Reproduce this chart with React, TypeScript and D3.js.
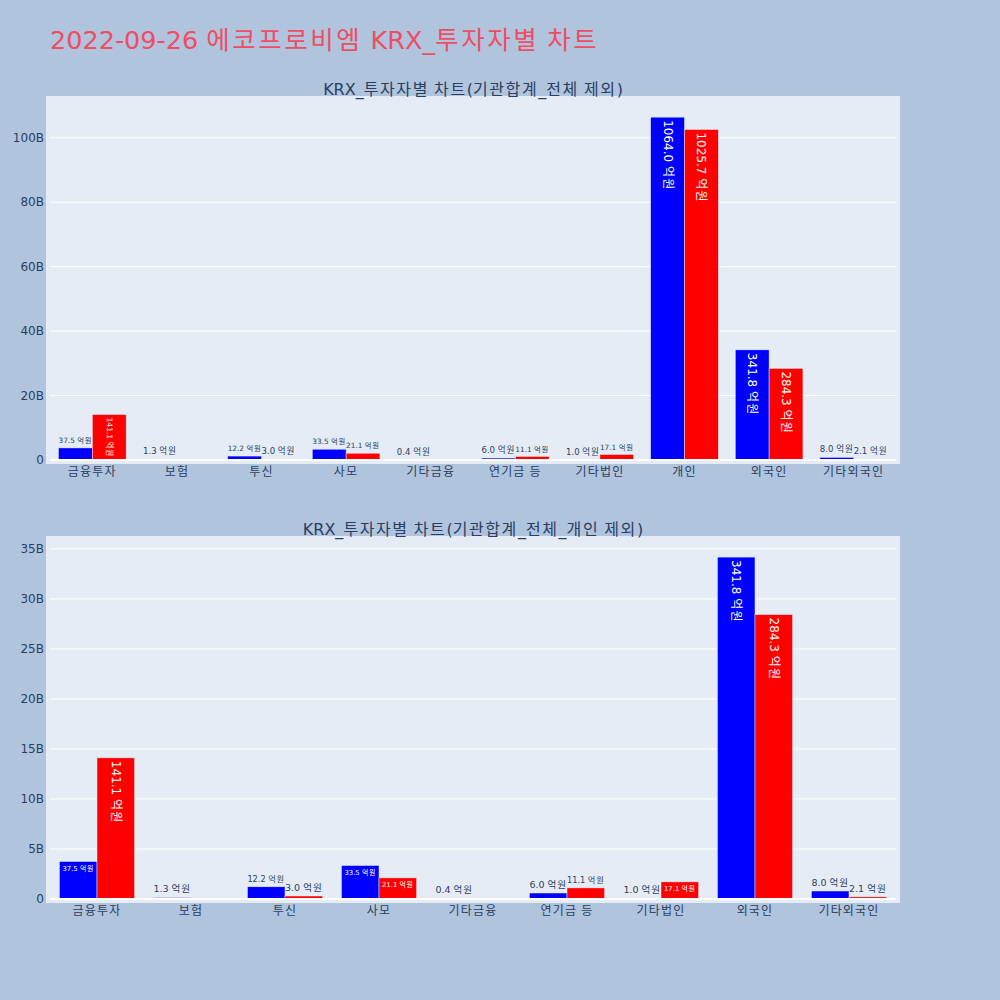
import React, { useEffect, useRef } from 'react';
import * as d3 from 'd3';

const categories = ['금융투자', '보험', '투신', '사모', '기타금융', '연기금 등', '기타법인', '개인', '외국인', '기타외국인'];
// values in 억원
const buyValues: (number | null)[] = [37.5, 1.3, 12.2, 33.5, 0.4, 6.0, 1.0, 1064.0, 341.8, 8.0];
const sellValues: (number | null)[] = [141.1, null, 3.0, 21.1, null, 11.1, 17.1, 1025.7, 284.3, 2.1];
const topTicks = [0, 20, 40, 60, 80, 100]; // billions
const bottomTicks = [0, 5, 10, 15, 20, 25, 30, 35];
const excludedBottom = ['개인'];

const mainTitle = '2022-09-26 에코프로비엠 KRX_투자자별 차트';
const topTitle = 'KRX_투자자별 차트(기관합계_전체 제외)';
const bottomTitle = 'KRX_투자자별 차트(기관합계_전체_개인 제외)';

const FONT = '"DejaVu Sans", "Noto Sans CJK KR", verdana, arial, sans-serif';
const TEXT_COLOR = '#2a3f5f';
const TEXTPAD = 3;

type Sel = d3.Selection<SVGTextElement, unknown, null, undefined>;

// write text with full-width spacing for Hangul runs
function setText(sel: Sel, str: string) {
  const parts = str.split(/([\uAC00-\uD7A3\u3131-\u318E]+)/).filter(p => p.length > 0);
  parts.forEach(p => {
    const ts = sel.append('tspan').text(p);
    if (/[\uAC00-\uD7A3]/.test(p)) ts.attr('letter-spacing', '0.1em');
  });
  return sel;
}

interface Box { x0: number; x1: number; y0: number; y1: number; }

function drawPanel(
  svg: d3.Selection<SVGSVGElement, unknown, null, undefined>,
  cats: string[], s1: (number | null)[], s2: (number | null)[],
  ticks: number[], box: Box, title: string
) {
  const g = svg.append('g');
  g.append('rect')
    .attr('x', box.x0 - 4).attr('y', box.y0 - 4)
    .attr('width', box.x1 - box.x0 + 8).attr('height', box.y1 - box.y0 + 8)
    .attr('fill', '#E5ECF6');

  const toWon = (v: number) => v * 1e8;
  const all = [...s1, ...s2].filter((v): v is number => v != null).map(toWon);
  const maxV = d3.max(all) as number;
  const y = d3.scaleLinear().domain([0, maxV * 1.05]).range([box.y1, box.y0]);
  const x = d3.scaleBand<string>().domain(cats).range([box.x0, box.x1]).paddingInner(0.2).paddingOuter(0.1);
  const sub = d3.scaleBand<string>().domain(['s1', 's2']).range([0, x.bandwidth()]).padding(0);

  // grid
  ticks.forEach(t => {
    const yy = y(t * 1e9);
    if (t !== 0) {
      g.append('line').attr('x1', box.x0).attr('x2', box.x1).attr('y1', yy).attr('y2', yy)
        .attr('stroke', '#fff').attr('stroke-width', 1);
    }
    g.append('text').attr('x', box.x0 - 6).attr('y', yy).attr('dy', '0.35em')
      .attr('text-anchor', 'end').attr('font-family', FONT).attr('font-size', 12)
      .attr('fill', TEXT_COLOR).text(t === 0 ? '0' : `${t}B`);
  });

  // category labels
  cats.forEach(c => {
    const t = g.append('text').attr('x', (x(c) as number) + x.bandwidth() / 2).attr('y', box.y1 + 16)
      .attr('text-anchor', 'middle').attr('font-family', FONT).attr('font-size', 12)
      .attr('fill', TEXT_COLOR);
    setText(t as unknown as Sel, c);
  });

  const series = [
    { key: 's1', vals: s1, color: '#0000FF' },
    { key: 's2', vals: s2, color: '#FF0000' },
  ];

  const barsG = g.append('g');
  const labels: { x0: number; x1: number; yb: number; yt: number; text: string }[] = [];
  series.forEach(s => {
    cats.forEach((c, i) => {
      const v = s.vals[i];
      if (v == null) return;
      const bx0 = (x(c) as number) + (sub(s.key) as number);
      const bx1 = bx0 + sub.bandwidth();
      const yt = y(toWon(v));
      const yb = y(0);
      barsG.append('rect').attr('x', bx0).attr('y', yt).attr('width', bx1 - bx0).attr('height', yb - yt)
        .attr('fill', s.color).attr('stroke', '#E5ECF6').attr('stroke-width', 0.5);
      labels.push({ x0: bx0, x1: bx1, yb, yt, text: `${v.toFixed(1)} 억원` });
    });
  });

  // zero line
  g.append('line').attr('x1', box.x0).attr('x2', box.x1).attr('y1', y(0)).attr('y2', y(0))
    .attr('stroke', '#fff').attr('stroke-width', 2);

  const textG = g.append('g');
  labels.forEach(l => {
    const t = textG.append('text').attr('font-family', FONT).attr('font-size', 12) as unknown as Sel;
    setText(t, l.text);
    const bb = (t.node() as SVGTextElement).getBBox();
    const tw = bb.width, th = bb.height;
    const cx = bb.x + tw / 2, cy = bb.y + th / 2;
    const barW = Math.abs(l.x1 - l.x0) - 2 * TEXTPAD;
    const barH = Math.abs(l.yb - l.yt) - 2 * TEXTPAD;
    const fitsInside = tw <= barW && th <= barH;
    const fitsRot = tw <= barH && th <= barW;
    const fitsShrunk = barH >= th * (barW / tw);
    const inside = fitsInside || fitsRot || fitsShrunk;
    const midX = (l.x0 + l.x1) / 2;
    if (inside) {
      let lx = Math.abs(l.x1 - l.x0), ly = Math.abs(l.yb - l.yt);
      const pad = lx > 2 * TEXTPAD && ly > 2 * TEXTPAD ? TEXTPAD : 0;
      lx -= 2 * pad; ly -= 2 * pad;
      let rot = 0;
      if (!(tw <= lx && th <= ly) && (tw > lx || th > ly) &&
        (!(tw > ly || th > lx) || ((tw < th) !== (lx < ly)))) rot = 90;
      const rx = rot ? th : tw, ry = rot ? tw : th;
      const sc = Math.min(1, lx / rx, ly / ry);
      const ty = l.yt + pad + sc * ry / 2;
      t.attr('fill', '#fff')
        .attr('transform', `translate(${midX},${ty}) scale(${sc}) rotate(${rot}) translate(${-cx},${-cy})`);
    } else {
      const lx = Math.abs(l.x1 - l.x0);
      const pad = lx > 2 * TEXTPAD ? TEXTPAD : 0;
      const sc = Math.min(1, lx / tw);
      const ty = l.yt - pad - sc * th / 2;
      t.attr('fill', TEXT_COLOR)
        .attr('transform', `translate(${midX},${ty}) scale(${sc}) translate(${-cx},${-cy})`);
    }
  });

  const tt = svg.append('text').attr('x', (box.x0 + box.x1) / 2).attr('y', box.y0 - 5)
    .attr('text-anchor', 'middle').attr('font-family', FONT).attr('font-size', 16)
    .attr('fill', TEXT_COLOR);
  setText(tt as unknown as Sel, title);
}

export default function App() {
  const ref = useRef<SVGSVGElement>(null);
  useEffect(() => {
    const svg = d3.select(ref.current as SVGSVGElement);
    svg.selectAll('*').remove();
    svg.append('rect').attr('width', 1000).attr('height', 1000).attr('fill', '#B0C4DE');
    const mt = svg.append('text').attr('x', 50).attr('y', 49).attr('font-family', FONT).attr('font-size', 25.5)
      .attr('fill', '#EF4D63');
    setText(mt as unknown as Sel, mainTitle);

    drawPanel(svg, categories, buyValues, sellValues, topTicks, { x0: 50, x1: 896, y0: 100, y1: 460 }, topTitle);

    const keep = categories.map((c, i) => ({ c, i })).filter(d => !excludedBottom.includes(d.c));
    drawPanel(svg, keep.map(d => d.c), keep.map(d => buyValues[d.i]), keep.map(d => sellValues[d.i]),
      bottomTicks, { x0: 50, x1: 896, y0: 540, y1: 899 }, bottomTitle);
  }, []);
  return (
    <svg ref={ref} width={1000} height={1000} style={{ position: 'absolute', left: 0, top: 0 }} />
  );
}
